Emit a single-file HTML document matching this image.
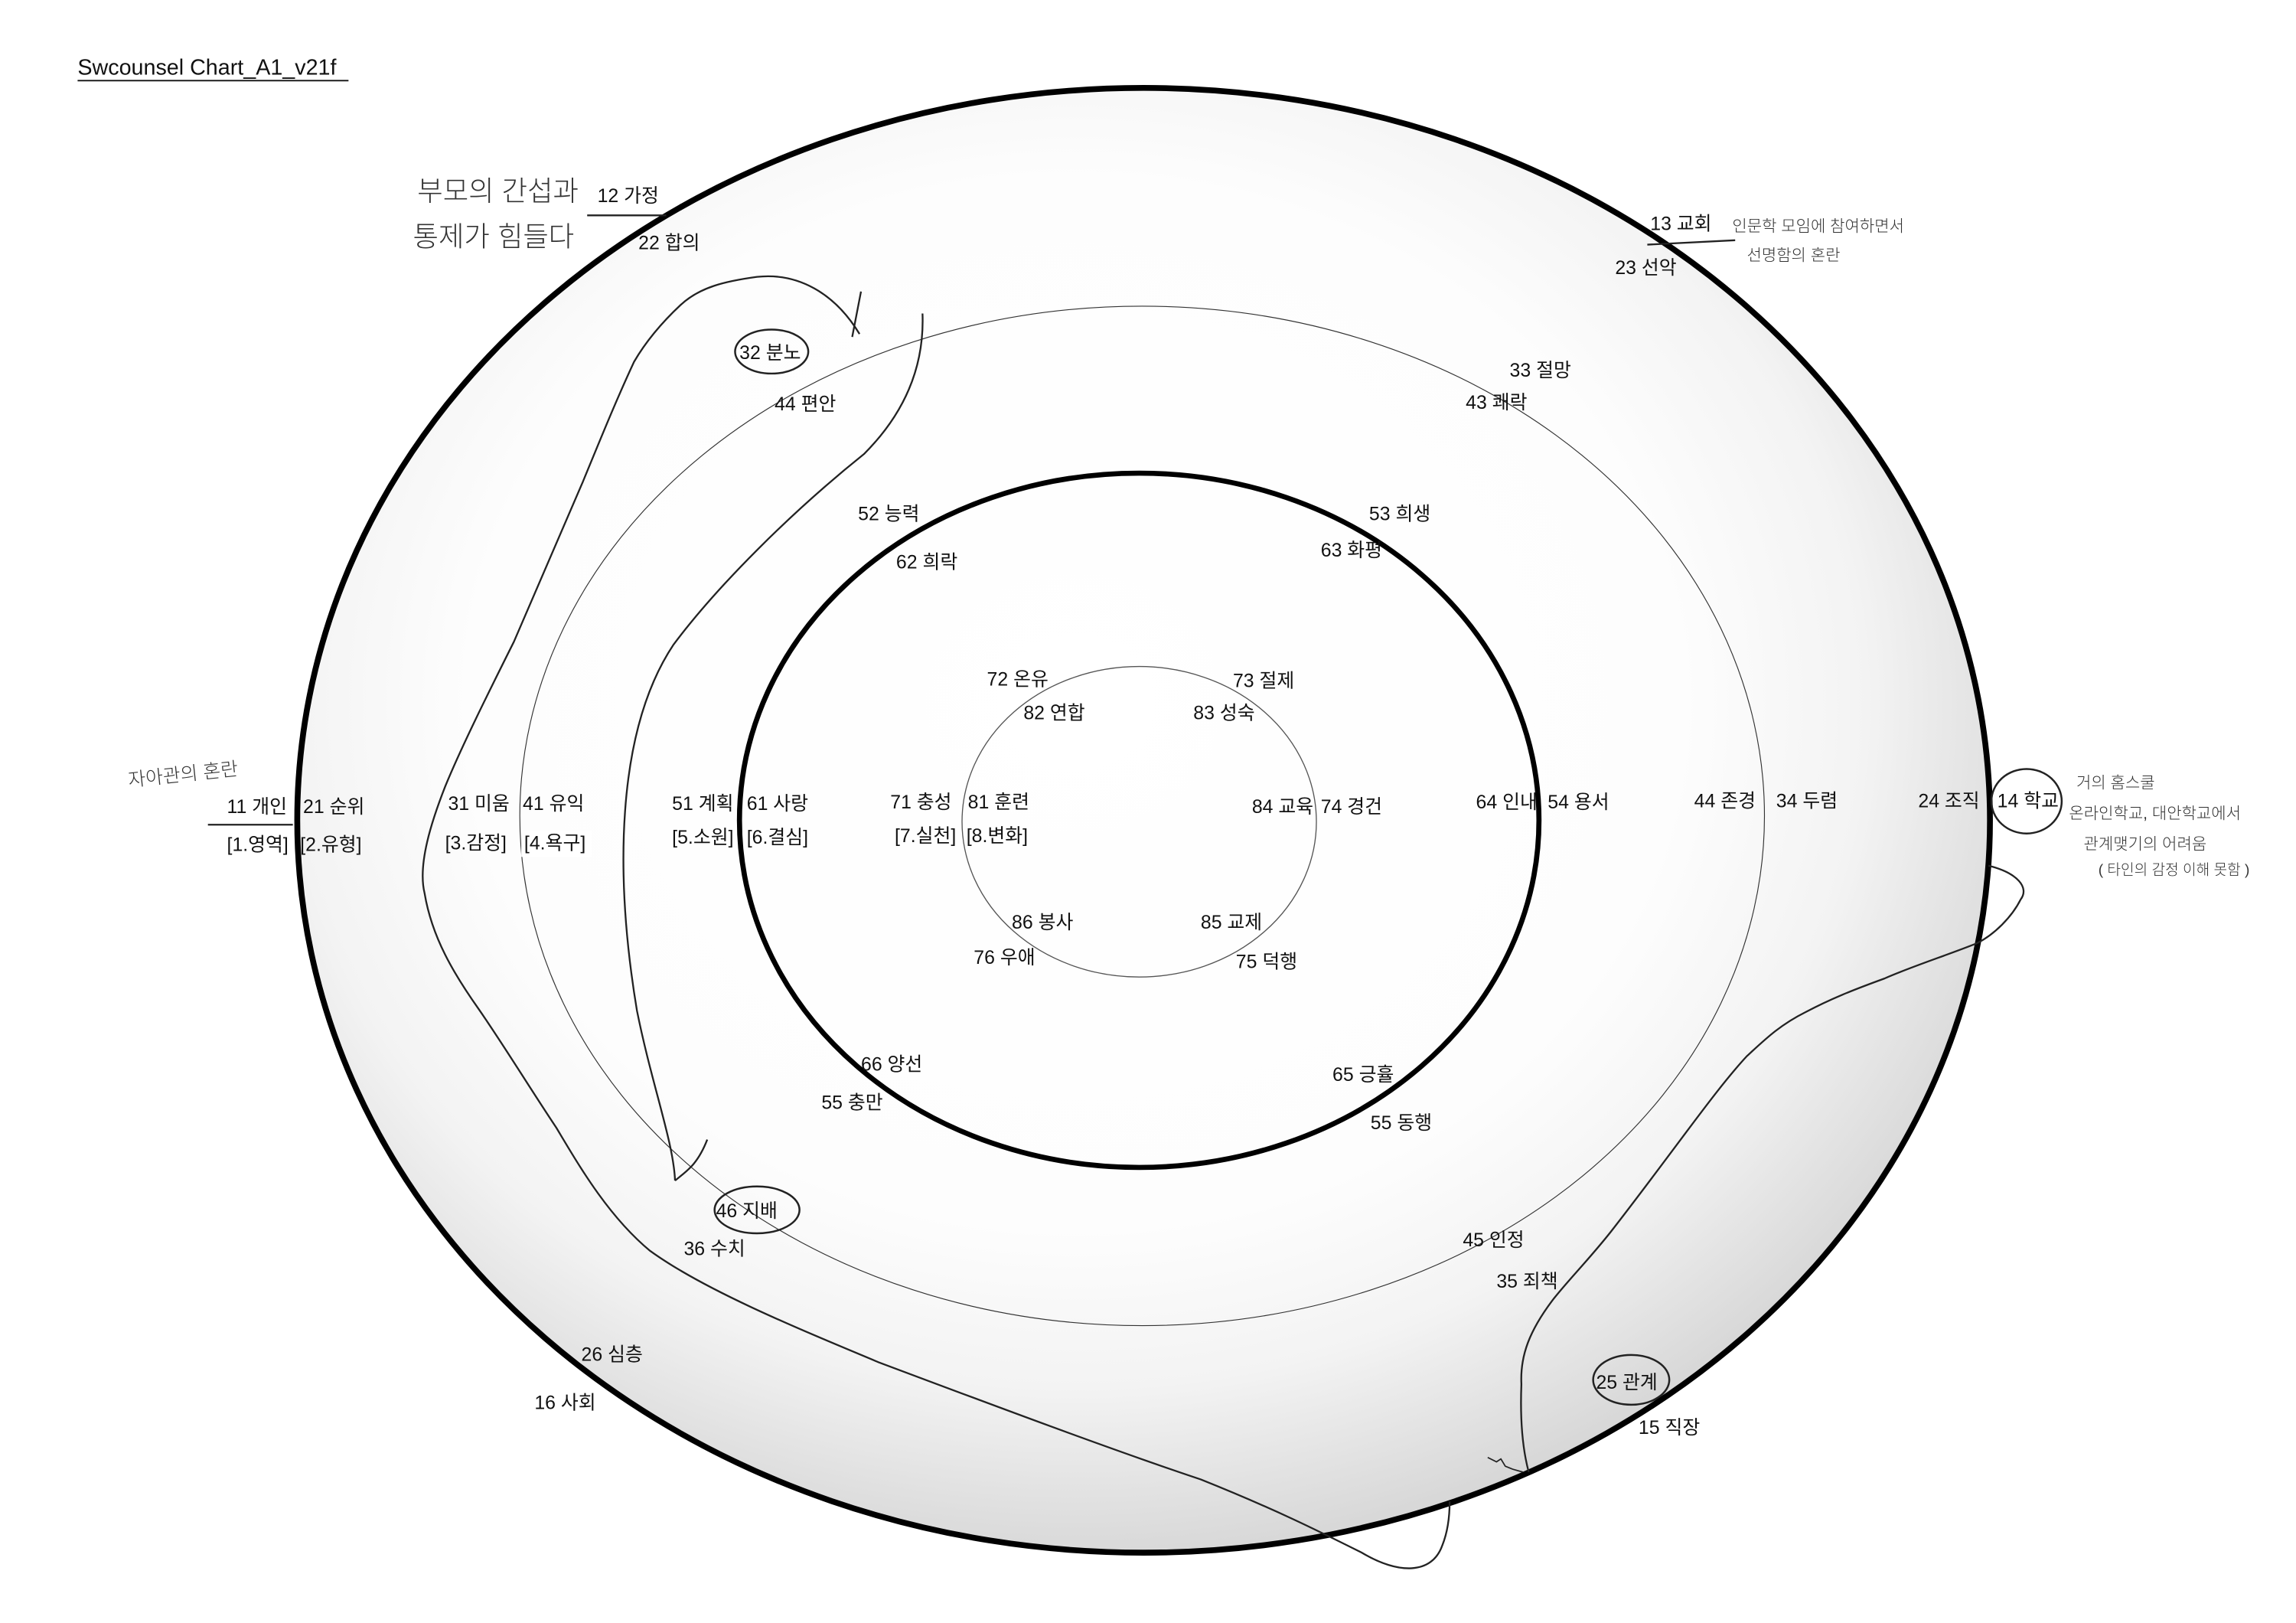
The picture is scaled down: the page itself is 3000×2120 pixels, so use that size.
<!DOCTYPE html>
<html><head><meta charset="utf-8"><style>
html,body{margin:0;padding:0;background:#fff;}
svg{display:block;}
text{font-family:"Liberation Sans","Noto Sans CJK KR",sans-serif;font-size:13px;fill:#111;}
.h{fill:#333;font-weight:300;}
</style></head><body>
<svg width="3000" height="2120" viewBox="0 0 1568 1108" xmlns="http://www.w3.org/2000/svg">
<defs>
<radialGradient id="g" cx="46%" cy="42%" r="60%">
<stop offset="0" stop-color="#ffffff"/>
<stop offset="0.6" stop-color="#fdfdfd"/>
<stop offset="0.78" stop-color="#f3f3f3"/>
<stop offset="0.9" stop-color="#e2e2e2"/>
<stop offset="1" stop-color="#d4d4d4"/>
</radialGradient>
</defs>
<rect width="1568" height="1108" fill="#fff"/>
<text x="53" y="51" style="font-size:15px">Swcounsel Chart_A1_v21f</text>
<line x1="53" y1="55" x2="238" y2="55" stroke="#111" stroke-width="1"/>

<ellipse cx="781" cy="560" rx="578" ry="500" fill="url(#g)" stroke="#000" stroke-width="4"/>
<ellipse cx="780" cy="557" rx="425" ry="348" fill="none" stroke="#333" stroke-width="0.6"/>
<ellipse cx="778" cy="560" rx="273" ry="237" fill="none" stroke="#000" stroke-width="3.5"/>
<ellipse cx="778" cy="561" rx="121" ry="106" fill="none" stroke="#555" stroke-width="0.7"/>

<g fill="none" stroke="#222" stroke-width="1.2">
<path d="M630,214 C631,240 625,275 590,310 C540,350 490,400 460,440 C420,500 420,600 435,690 C445,740 460,780 461,806 M461,806 C468,800 476,796 483,778"/>
<path d="M588,199 L582,230"/>
<path d="M587,228 C570,200 545,186 517,189 C495,192 478,196 465,208 C450,222 440,235 433,247 C420,275 410,300 398,329 C380,370 365,405 351,438 C335,470 315,510 304,537 C295,560 285,590 290,610 C295,640 310,665 327,689 C345,715 360,740 380,770 C395,795 415,830 444,854 C480,880 540,905 600,930 C680,960 760,990 820,1010 C870,1030 900,1045 930,1060 C955,1075 978,1075 985,1055 C989,1045 990,1035 990,1025"/>
<path d="M1358,591 C1378,596 1386,606 1380,614 C1374,626 1362,638 1350,644 C1330,652 1305,660 1287,668 C1265,676 1250,682 1233,691 C1215,700 1205,710 1193,721 C1180,735 1165,755 1153,771 C1135,795 1118,818 1100,841 C1085,860 1070,875 1060,888 C1045,908 1038,925 1039,945 C1038,970 1040,990 1044,1005"/>
<path d="M1016,995 L1022,998 L1025,996 L1028,1001 L1033,1003 L1040,1005" stroke-width="0.9"/>
</g>
<g fill="none" stroke="#222" stroke-width="1.3">
<ellipse cx="527" cy="240" rx="25" ry="15"/>
<ellipse cx="517" cy="826" rx="29" ry="16"/>
<ellipse cx="1114" cy="942" rx="26" ry="17"/>
<ellipse cx="1384" cy="547" rx="24" ry="22"/>
</g>
<g stroke="#222" stroke-width="1.2">
<line x1="401" y1="147" x2="455" y2="147"/>
<line x1="1125" y1="167" x2="1185" y2="164"/>
<line x1="142" y1="563" x2="200" y2="563"/>
</g>
<rect x="356" y="567" width="48" height="18" fill="#fff"/>

<text x="408" y="138">12 가정</text>
<text x="436" y="170">22 합의</text>
<text x="1127" y="157">13 교회</text>
<text x="1103" y="187">23 선악</text>
<text x="1031" y="257">33 절망</text>
<text x="1001" y="279">43 쾌락</text>
<text x="505" y="245">32 분노</text>
<text x="529" y="280">44 편안</text>
<text x="586" y="355">52 능력</text>
<text x="612" y="388">62 희락</text>
<text x="935" y="355">53 희생</text>
<text x="902" y="380">63 화평</text>
<text x="674" y="468">72 온유</text>
<text x="842" y="469">73 절제</text>
<text x="699" y="491">82 연합</text>
<text x="815" y="491">83 성숙</text>
<text x="155" y="555">11 개인</text>
<text x="207" y="555">21 순위</text>
<text x="155" y="581">[1.영역]</text>
<text x="205" y="581">[2.유형]</text>
<text x="306" y="553">31 미움</text>
<text x="357" y="553">41 유익</text>
<text x="304" y="580">[3.감정]</text>
<text x="358" y="580">[4.욕구]</text>
<text x="459" y="553">51 계획</text>
<text x="510" y="553">61 사랑</text>
<text x="459" y="576">[5.소원]</text>
<text x="510" y="576">[6.결심]</text>
<text x="608" y="552">71 충성</text>
<text x="661" y="552">81 훈련</text>
<text x="611" y="575">[7.실천]</text>
<text x="660" y="575">[8.변화]</text>
<text x="855" y="555">84 교육</text>
<text x="902" y="555">74 경건</text>
<text x="1008" y="552">64 인내</text>
<text x="1057" y="552">54 용서</text>
<text x="1157" y="551">44 존경</text>
<text x="1213" y="551">34 두렴</text>
<text x="1310" y="551">24 조직</text>
<text x="1364" y="551">14 학교</text>
<text x="691" y="634">86 봉사</text>
<text x="820" y="634">85 교제</text>
<text x="665" y="658">76 우애</text>
<text x="844" y="661">75 덕행</text>
<text x="588" y="731">66 양선</text>
<text x="910" y="738">65 긍휼</text>
<text x="561" y="757">55 충만</text>
<text x="936" y="771">55 동행</text>
<text x="489" y="831">46 지배</text>
<text x="467" y="857">36 수치</text>
<text x="999" y="851">45 인정</text>
<text x="1022" y="879">35 죄책</text>
<text x="397" y="929">26 심층</text>
<text x="365" y="962">16 사회</text>
<text x="1090" y="948">25 관계</text>
<text x="1119" y="979">15 직장</text>

<text class="h" x="285" y="137" style="font-size:19px">부모의 간섭과</text>
<text class="h" x="282" y="168" style="font-size:19px">통제가 힘들다</text>
<text class="h" x="88" y="537" style="font-size:13px" transform="rotate(-6 88 537)">자아관의 혼란</text>
<text class="h" x="1183" y="158" style="font-size:11px">인문학 모임에 참여하면서</text>
<text class="h" x="1193" y="178" style="font-size:11px">선명함의 혼란</text>
<text class="h" x="1418" y="538" style="font-size:11px">거의 홈스쿨</text>
<text class="h" x="1413" y="559" style="font-size:11px">온라인학교, 대안학교에서</text>
<text class="h" x="1423" y="580" style="font-size:11px">관계맺기의 어려움</text>
<text class="h" x="1433" y="597" style="font-size:10px">( 타인의 감정 이해 못함 )</text>
</svg>
</body></html>
